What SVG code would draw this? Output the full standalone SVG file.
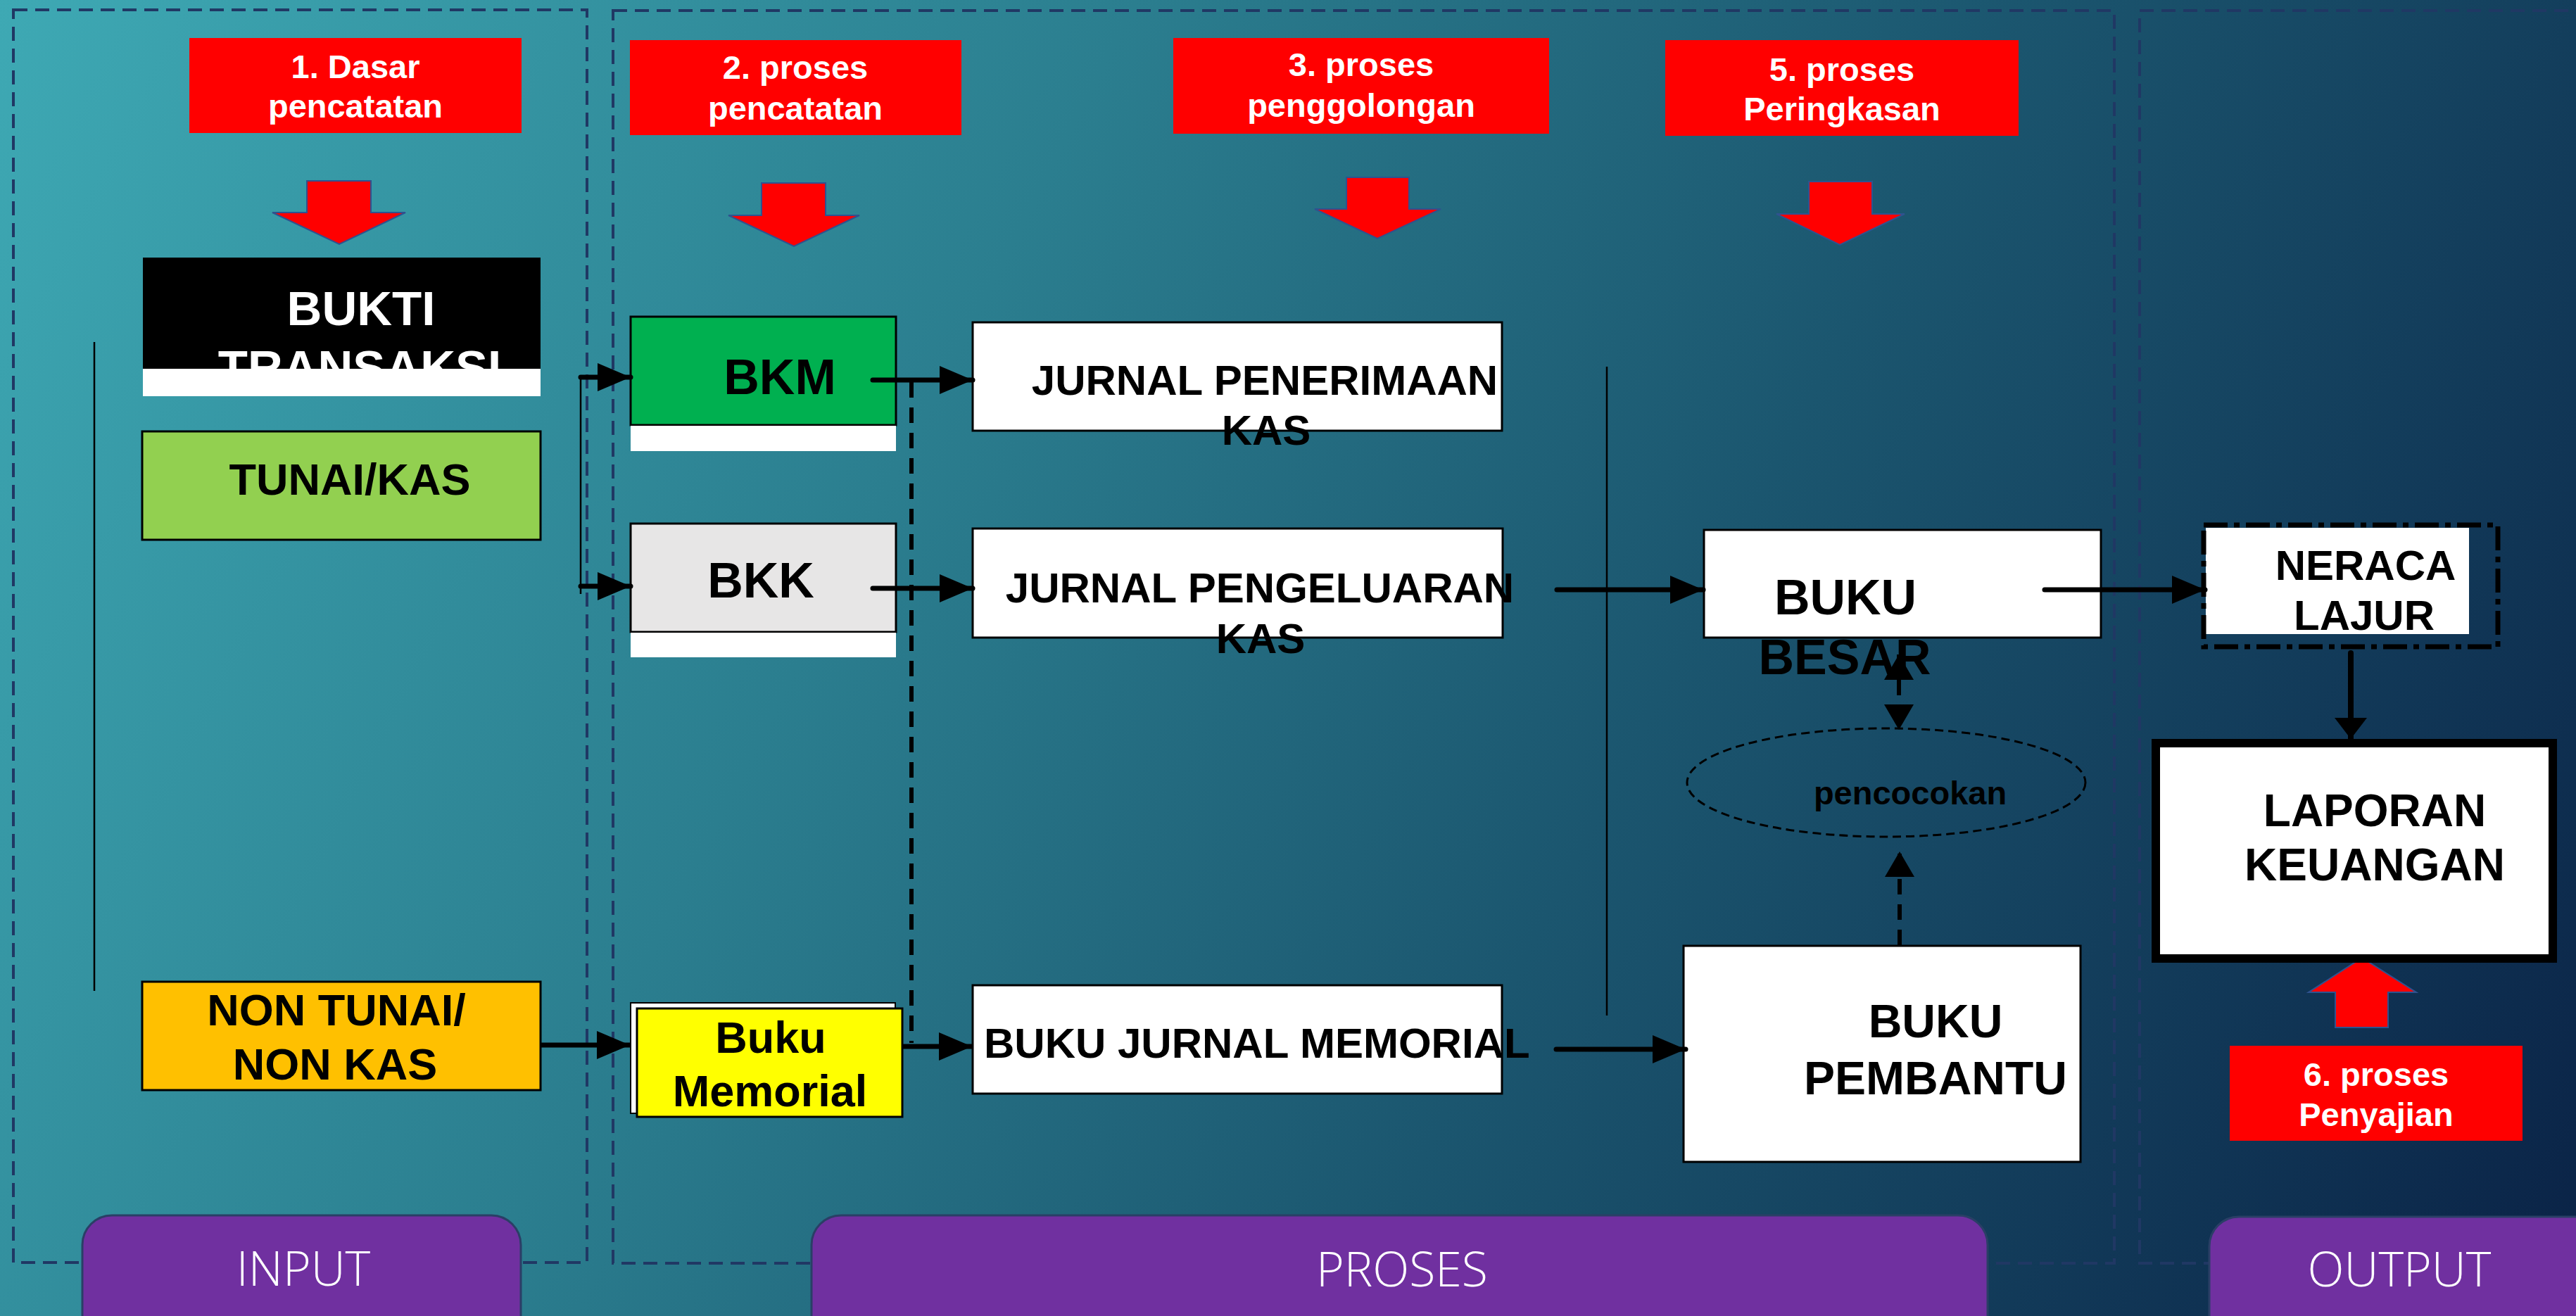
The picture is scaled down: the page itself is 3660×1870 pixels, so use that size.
<svg xmlns="http://www.w3.org/2000/svg" width="3660" height="1870" viewBox="0 0 3660 1870">
<defs>
<linearGradient id="bg" x1="0" y1="0" x2="3660" y2="1870" gradientUnits="userSpaceOnUse">
<stop offset="0" stop-color="#3ea9b4"/>
<stop offset="0.35" stop-color="#2b7e8f"/>
<stop offset="0.62" stop-color="#1b566f"/>
<stop offset="1" stop-color="#0a2246"/>
</linearGradient>
<marker id="ah" markerUnits="userSpaceOnUse" markerWidth="47" markerHeight="40" refX="47" refY="20" orient="auto">
<path d="M0,0 L47,20 L0,40 z" fill="#000"/>
</marker>
<marker id="ah2" markerUnits="userSpaceOnUse" markerWidth="30" markerHeight="46" refX="30" refY="23" orient="auto">
<path d="M0,0 L30,23 L0,46 z" fill="#000"/>
</marker>
<marker id="ah3" markerUnits="userSpaceOnUse" markerWidth="36" markerHeight="42" refX="36" refY="21" orient="auto-start-reverse">
<path d="M0,0 L36,21 L0,42 z" fill="#000"/>
</marker>
<style>
.cont{fill:none;stroke:#203864;stroke-width:4;stroke-dasharray:20 11}
.red{fill:#ff0000}
.rt{font-family:"Liberation Sans",Arial,sans-serif;font-weight:bold;font-size:47px;fill:#fff;text-anchor:middle}
.rarr{fill:#ff0000;stroke:#2f528f;stroke-width:2}
.box{stroke:#000;stroke-width:3}
.bt{font-family:"Liberation Sans",Arial,sans-serif;font-weight:bold;fill:#000;text-anchor:middle}
.lbl{fill:#7030a0;stroke:#2a3f66;stroke-width:3}
.lt{font-family:"Open Sans","Liberation Sans",sans-serif;font-weight:300;font-size:68px;fill:#fff;text-anchor:middle}
.arr{stroke:#000;stroke-width:7;stroke-linecap:round;fill:none;marker-end:url(#ah)}
.thin{stroke:#000;stroke-width:2.5;fill:none}
.dash{stroke:#000;stroke-width:6;fill:none;stroke-dasharray:22 14}
</style>
</defs>
<rect x="0" y="0" width="3660" height="1870" fill="url(#bg)"/>

<g id="containers">
<rect class="cont" x="19" y="14" width="815" height="1780"/>
<rect class="cont" x="871" y="15" width="2133" height="1780"/>
<rect class="cont" x="3040" y="15" width="700" height="1780"/>
</g>

<g id="step1">
<rect class="red" x="269" y="54" width="472" height="135"/>
<text class="rt" x="505" y="111">1. Dasar</text>
<text class="rt" x="505" y="167">pencatatan</text>
<polygon class="rarr" points="436,257 527,257 527,302 576,302 482,347 387,302 436,302"/>
</g>
<g id="step2">
<rect class="red" x="895" y="57" width="471" height="135"/>
<text class="rt" x="1130" y="112">2. proses</text>
<text class="rt" x="1130" y="170">pencatatan</text>
<polygon class="rarr" points="1082,260 1173,260 1173,306 1221,306 1128,350 1035,306 1082,306"/>
</g>
<g id="step3">
<rect class="red" x="1667" y="54" width="534" height="136"/>
<text class="rt" x="1934" y="108">3. proses</text>
<text class="rt" x="1934" y="166">penggolongan</text>
<polygon class="rarr" points="1913,252 2002,252 2002,297 2047,297 1957,339 1868,297 1913,297"/>
</g>
<g id="step5">
<rect class="red" x="2366" y="57" width="502" height="136"/>
<text class="rt" x="2617" y="115">5. proses</text>
<text class="rt" x="2617" y="171">Peringkasan</text>
<polygon class="rarr" points="2570,258 2660,258 2660,304 2706,304 2614,348 2524,304 2570,304"/>
</g>
<g id="step6">
<polygon class="rarr" points="3356,1361 3433,1410 3393,1410 3393,1460 3318,1460 3318,1410 3280,1410"/>
<rect class="red" x="3168" y="1486" width="416" height="135"/>
<text class="rt" x="3376" y="1543">6. proses</text>
<text class="rt" x="3376" y="1600">Penyajian</text>
</g>

<g id="bukti-transaksi">
<rect x="203" y="366" width="565" height="158" fill="#000"/>
<text class="bt" x="513" y="462" font-size="69" fill="#fff" style="fill:#fff">BUKTI</text>
<text class="bt" x="511" y="546" font-size="69" style="fill:#fff">TRANSAKSI</text>
<rect x="203" y="524" width="565" height="39" fill="#fff"/>
</g>
<g id="tunai-kas">
<rect class="box" x="202" y="613" width="566" height="154" fill="#92d050"/>
<text class="bt" x="497" y="703" font-size="63">TUNAI/KAS</text>
</g>
<g id="non-tunai">
<rect class="box" x="202" y="1395" width="566" height="154" fill="#ffc000"/>
<text class="bt" x="478" y="1457" font-size="63">NON TUNAI/</text>
<text class="bt" x="476" y="1534" font-size="63">NON KAS</text>
</g>
<g id="bkm">
<rect class="box" x="896" y="450" width="377" height="154" fill="#00b050"/>
<rect x="896" y="605" width="377" height="36" fill="#fff"/>
<text class="bt" x="1108" y="560" font-size="70">BKM</text>
</g>
<g id="bkk">
<rect class="box" x="896" y="744" width="377" height="154" fill="#e7e6e6"/>
<rect x="896" y="899" width="377" height="35" fill="#fff"/>
<text class="bt" x="1081" y="849" font-size="70">BKK</text>
</g>
<g id="buku-memorial">
<rect x="896" y="1425" width="376" height="157" fill="#fff" stroke="#000" stroke-width="2"/>
<rect class="box" x="905" y="1433" width="377" height="154" fill="#ffff00"/>
<text class="bt" x="1095" y="1496" font-size="63">Buku</text>
<text class="bt" x="1094" y="1572" font-size="63">Memorial</text>
</g>
<g id="jurnal-penerimaan">
<rect class="box" x="1382" y="458" width="752" height="154" fill="#fff"/>
<text class="bt" x="1797" y="561" font-size="60">JURNAL PENERIMAAN</text>
<text class="bt" x="1799" y="632" font-size="60">KAS</text>
</g>
<g id="jurnal-pengeluaran">
<rect class="box" x="1382" y="751" width="753" height="155" fill="#fff"/>
<text class="bt" x="1790" y="856" font-size="60">JURNAL PENGELUARAN</text>
<text class="bt" x="1791" y="928" font-size="60">KAS</text>
</g>
<g id="buku-jurnal-memorial">
<rect class="box" x="1382" y="1400" width="752" height="154" fill="#fff"/>
<text class="bt" x="1398" y="1503" font-size="60" style="text-anchor:start">BUKU JURNAL MEMORIAL</text>
</g>
<g id="buku-besar">
<rect class="box" x="2421" y="753" width="564" height="153" fill="#fff"/>
<text class="bt" x="2622" y="873" font-size="70">BUKU</text>
<text class="bt" x="2621" y="958" font-size="70">BESAR</text>
</g>
<g id="pencocokan">
<ellipse cx="2680" cy="1112" rx="283" ry="77" fill="none" stroke="#000" stroke-width="3" stroke-dasharray="12 7"/>
<text class="bt" x="2714" y="1143" font-size="47">pencocokan</text>
</g>
<g id="buku-pembantu">
<rect class="box" x="2392" y="1344" width="564" height="307" fill="#fff"/>
<text class="bt" x="2750" y="1474" font-size="66">BUKU</text>
<text class="bt" x="2750" y="1555" font-size="66">PEMBANTU</text>
</g>
<g id="neraca-lajur">
<rect x="3134" y="750" width="374" height="151" fill="#fff"/>
<rect x="3131" y="746" width="418" height="173" fill="none" stroke="#000" stroke-width="7" stroke-dasharray="34 9 8 9"/>
<text class="bt" x="3361" y="824" font-size="60">NERACA</text>
<text class="bt" x="3359" y="895" font-size="60">LAJUR</text>
</g>
<g id="laporan-keuangan">
<rect x="3063" y="1056" width="564" height="306" fill="#fff" stroke="#000" stroke-width="12"/>
<text class="bt" x="3374" y="1174" font-size="64">LAPORAN</text>
<text class="bt" x="3374" y="1251" font-size="64">KEUANGAN</text>
</g>

<g id="label-input">
<rect class="lbl" x="117" y="1727" width="623" height="200" rx="42"/>
<text class="lt" x="431" y="1827">INPUT</text>
</g>
<g id="label-proses">
<rect class="lbl" x="1153" y="1727" width="1671" height="200" rx="42"/>
<text class="lt" x="1992" y="1828">PROSES</text>
</g>
<g id="label-output">
<rect class="lbl" x="3139" y="1729" width="600" height="200" rx="42"/>
<text class="lt" x="3409" y="1828">OUTPUT</text>
</g>

<g id="connectors">
<line class="thin" x1="134" y1="486" x2="134" y2="1408"/>
<line class="thin" x1="2283" y1="521" x2="2283" y2="1443"/>
<line class="thin" x1="825" y1="536" x2="825" y2="844"/>
<line class="arr" x1="825" y1="536" x2="896" y2="536"/>
<line class="arr" x1="825" y1="833" x2="896" y2="833"/>
<line class="arr" x1="1240" y1="540" x2="1382" y2="540"/>
<line class="arr" x1="1240" y1="836" x2="1382" y2="836"/>
<line class="arr" x1="768" y1="1485" x2="895" y2="1485" style="stroke-linecap:butt"/>
<line class="arr" x1="1282" y1="1487" x2="1381" y2="1487" style="stroke-linecap:butt"/>
<line class="arr" x1="2212" y1="838" x2="2420" y2="838"/>
<line class="arr" x1="2211" y1="1491" x2="2395" y2="1491"/>
<line class="arr" x1="2905" y1="838" x2="3133" y2="838"/>
<line x1="3340" y1="928" x2="3340" y2="1050" stroke="#000" stroke-width="8" stroke-linecap="round" marker-end="url(#ah2)"/>
<line class="dash" x1="1295" y1="543" x2="1295" y2="1482"/>
<line class="dash" x1="2698" y1="930" x2="2698" y2="1037" marker-start="url(#ah3)" marker-end="url(#ah3)"/>
<line class="dash" x1="2699" y1="1343" x2="2699" y2="1210" marker-end="url(#ah3)"/>
</g>
</svg>
